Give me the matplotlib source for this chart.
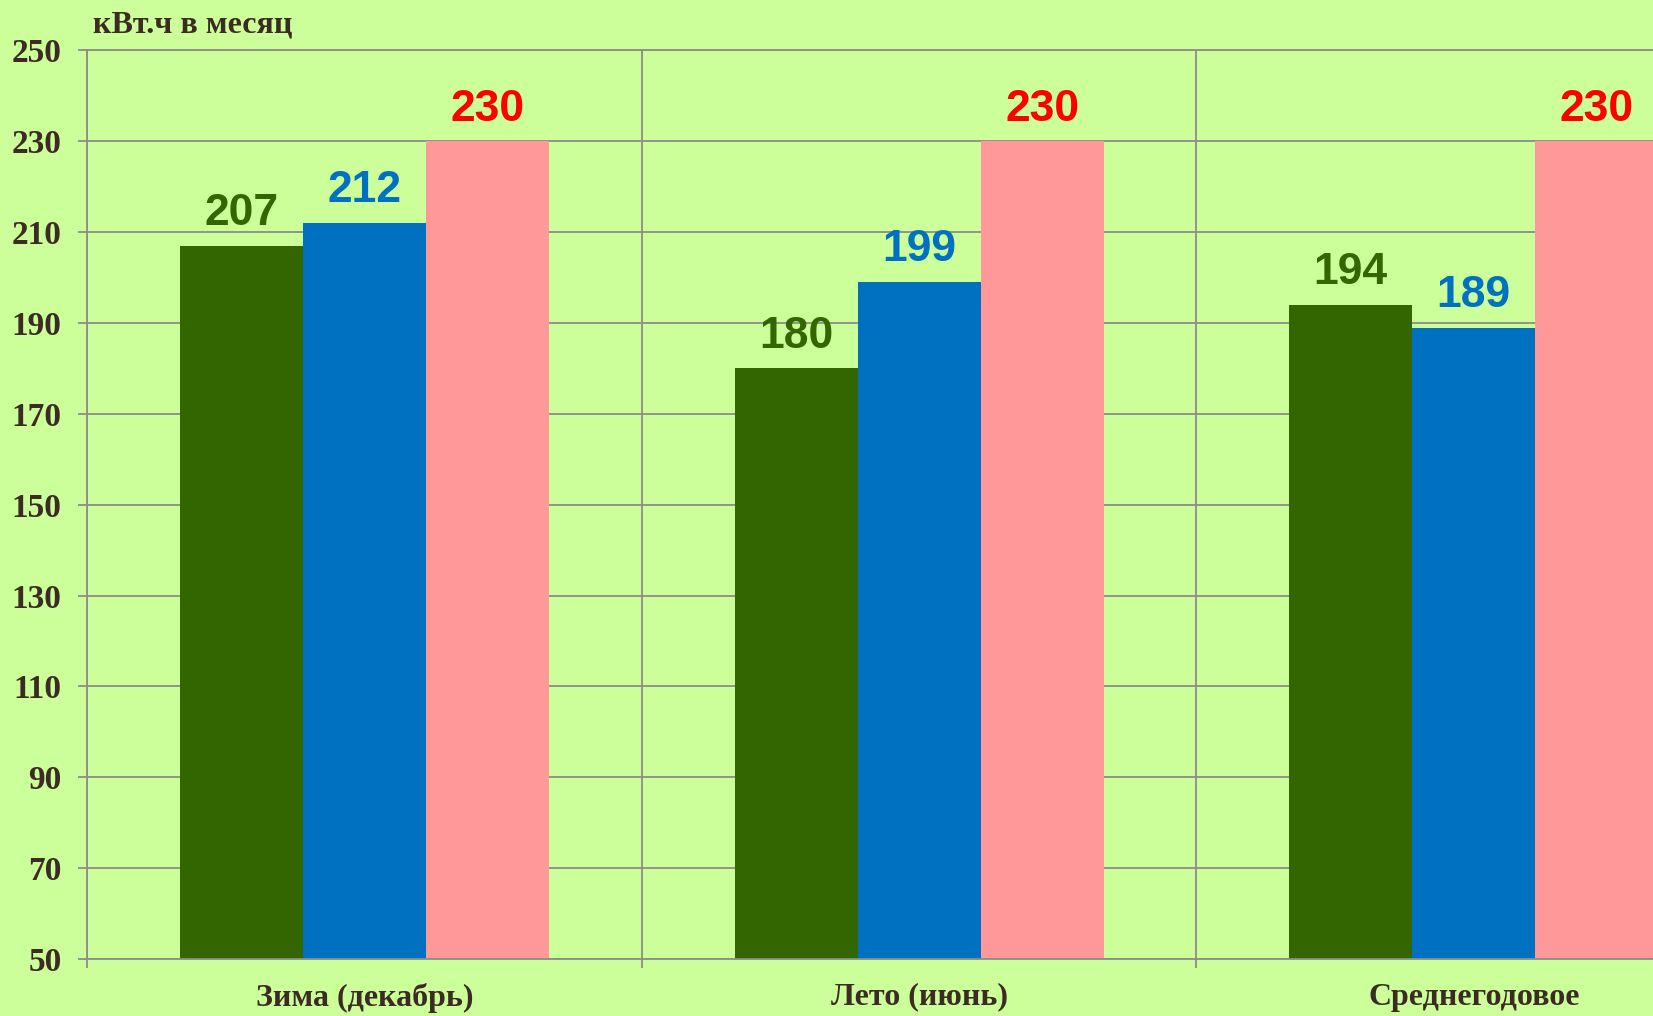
import matplotlib
matplotlib.use("Agg")
import matplotlib.pyplot as plt
import numpy as np

# data
categories = ['Зима (декабрь)', 'Лето (июнь)', 'Среднегодовое']
green_vals = [207, 180, 194]
blue_vals = [212, 199, 189]
pink_vals = [230, 230, 230]
y_ticks = [50, 70, 90, 110, 130, 150, 170, 190, 210, 230, 250]

bg = '#CCFF99'
grid_col = '#8C8C8C'
text_col = '#3B2B22'
bar_cols = ['#336600', '#0070C0', '#FF9999']
label_cols = ['#336600', '#0070C0', '#FF0000']

fig = plt.figure(figsize=(16.53, 10.16), dpi=100, facecolor=bg)
# plot area runs past the right edge of the picture, as in the original
ax = fig.add_axes([0.0529, 0.0561, 1.0064, 0.8942])
ax.set_facecolor(bg)

x = np.arange(len(categories))
w = 0.222
series = [green_vals, blue_vals, pink_vals]
for i, vals in enumerate(series):
    pos = x + (i - 1) * w
    ax.bar(pos, np.array(vals) - 50, bottom=50, width=w, color=bar_cols[i], zorder=2)
    for px, v in zip(pos, vals):
        ax.annotate(str(v), (px, v), xytext=(0, 15), textcoords='offset points',
                    ha='center', va='baseline', fontsize=32, fontweight='bold',
                    color=label_cols[i], family='Liberation Sans', zorder=3)

ax.set_xlim(-0.5, 2.5)
ax.set_ylim(50, 250)
ax.set_yticks(y_ticks)
ax.set_yticklabels([str(t) for t in y_ticks], fontsize=24, fontweight='bold',
                   family='Liberation Serif', color=text_col)
ax.set_xticks(x)
ax.set_xticklabels(categories, fontsize=23, fontweight='bold',
                   family='Liberation Serif', color=text_col)
ax.set_xticks([-0.5, 0.5, 1.5, 2.5], minor=True)

ax.tick_params(axis='x', which='major', length=0, pad=17)
ax.tick_params(axis='x', which='minor', length=6.5, width=1.3, color=grid_col, direction='out')
ax.tick_params(axis='y', length=6.5, width=1.3, color=grid_col, direction='out', pad=12)

ax.set_axisbelow(True)
ax.grid(axis='y', color=grid_col, linewidth=1.3)
ax.grid(axis='x', which='minor', color=grid_col, linewidth=1.3)

for s in ['left', 'bottom', 'top']:
    ax.spines[s].set_color(grid_col)
    ax.spines[s].set_linewidth(1.3)
ax.spines['right'].set_visible(False)

fig.text(93 / 1653, 1 - 33 / 1016, 'кВт.ч в месяц', fontsize=23, fontweight='bold',
         family='Liberation Serif', color=text_col, ha='left', va='baseline')

fig.savefig('out.png', dpi=100, facecolor=bg)
